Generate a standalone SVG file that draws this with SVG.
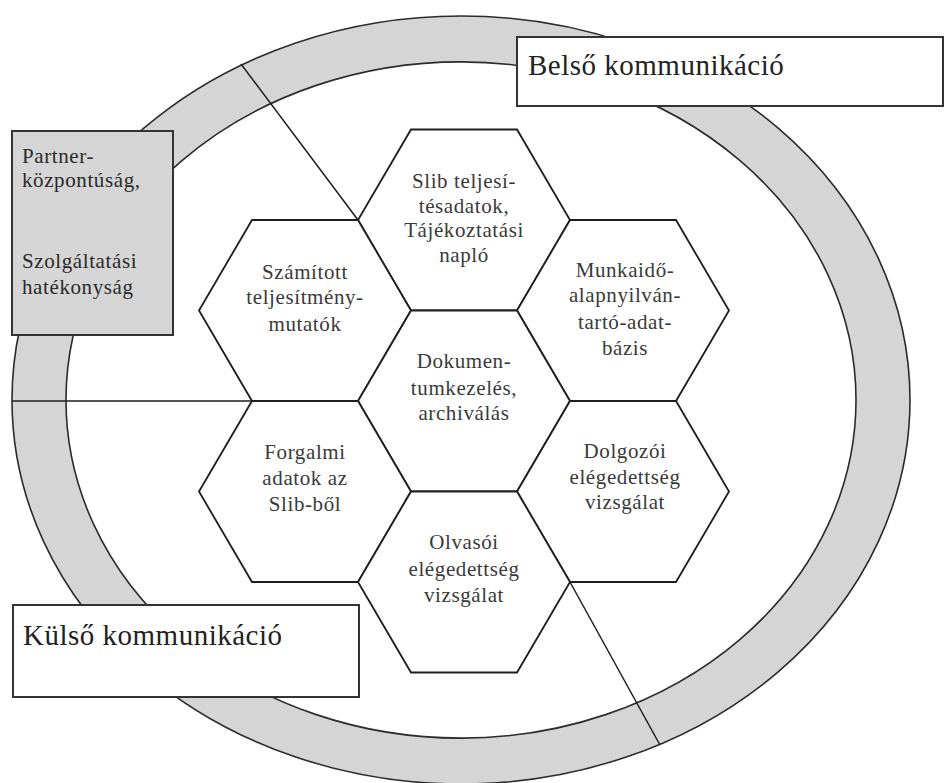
<svg xmlns="http://www.w3.org/2000/svg" width="945" height="783" viewBox="0 0 945 783">
<style>
.ring{fill:#d5d5d5;fill-rule:evenodd;stroke:#2b2b2b;stroke-width:1.6}
.hex{fill:#ffffff;stroke:#1e1e1e;stroke-width:1.8;stroke-linejoin:miter}
.box{fill:#ffffff;stroke:#333333;stroke-width:2}
.gbox{fill:#d5d5d5;stroke:#333333;stroke-width:2}
.ln{stroke:#1e1e1e;stroke-width:1.5;fill:none}
.ht{font-family:"Liberation Serif","Times New Roman",serif;font-size:21px;letter-spacing:0.6px;fill:#3a3a3a;text-anchor:middle}
.bt{font-family:"Liberation Serif","Times New Roman",serif;font-size:21px;letter-spacing:0.6px;fill:#2a2a2a}
.lt{font-family:"Liberation Serif","Times New Roman",serif;font-size:29px;letter-spacing:0.5px;fill:#222222}
</style>
<rect x="0" y="0" width="945" height="783" fill="#ffffff"/>
<g id="ring">
<path class="ring" d="M12,400 A449,384 0 1,0 910,400 A449,384 0 1,0 12,400 Z M66,400 A395,338 0 1,1 856,400 A395,338 0 1,1 66,400 Z"/>
</g>
<g id="connectors">
<line class="ln" x1="241" y1="64" x2="358" y2="220"/>
<line class="ln" x1="12" y1="401" x2="252" y2="401"/>
<line class="ln" x1="570" y1="582" x2="660" y2="745"/>
</g>
<g id="hex-slib">
<polygon class="hex" points="411,129.5 517,129.5 570,220 517,310.5 411,310.5 358,220"/>
<text class="ht" x="464" y="188">Slib teljesí-</text>
<text class="ht" x="464" y="213">tésadatok,</text>
<text class="ht" x="464" y="237">Tájékoztatási</text>
<text class="ht" x="464" y="262">napló</text>
</g>
<g id="hex-szamitott">
<polygon class="hex" points="252,220 358,220 411,310.5 358,401 252,401 199,310.5"/>
<text class="ht" x="305" y="279">Számított</text>
<text class="ht" x="305" y="304">teljesítmény-</text>
<text class="ht" x="305" y="331">mutatók</text>
</g>
<g id="hex-munkaido">
<polygon class="hex" points="570,220 676,220 729,310.5 676,401 570,401 517,310.5"/>
<text class="ht" x="625" y="277">Munkaidő-</text>
<text class="ht" x="625" y="302">alapnyilván-</text>
<text class="ht" x="625" y="329">tartó-adat-</text>
<text class="ht" x="625" y="355">bázis</text>
</g>
<g id="hex-dokumentum">
<polygon class="hex" points="411,310.5 517,310.5 570,401 517,491.5 411,491.5 358,401"/>
<text class="ht" x="464" y="368">Dokumen-</text>
<text class="ht" x="464" y="395">tumkezelés,</text>
<text class="ht" x="464" y="420">archiválás</text>
</g>
<g id="hex-forgalmi">
<polygon class="hex" points="252,401 358,401 411,491.5 358,582 252,582 199,491.5"/>
<text class="ht" x="305" y="459">Forgalmi</text>
<text class="ht" x="305" y="485">adatok az</text>
<text class="ht" x="305" y="511">Slib-ből</text>
</g>
<g id="hex-dolgozoi">
<polygon class="hex" points="570,401 676,401 729,491.5 676,582 570,582 517,491.5"/>
<text class="ht" x="625" y="458">Dolgozói</text>
<text class="ht" x="625" y="484">elégedettség</text>
<text class="ht" x="625" y="509">vizsgálat</text>
</g>
<g id="hex-olvasoi">
<polygon class="hex" points="411,491.5 517,491.5 570,582 517,672.5 411,672.5 358,582"/>
<text class="ht" x="464" y="549">Olvasói</text>
<text class="ht" x="464" y="576">elégedettség</text>
<text class="ht" x="464" y="602">vizsgálat</text>
</g>
<g id="box-partner">
<rect class="gbox" x="12" y="131" width="161" height="204"/>
<text class="bt" x="22" y="163">Partner-</text>
<text class="bt" x="22" y="187">központúság,</text>
<text class="bt" x="22" y="268">Szolgáltatási</text>
<text class="bt" x="22" y="294">hatékonyság</text>
</g>
<g id="box-belso">
<rect class="box" x="517" y="37" width="426" height="69"/>
<text class="lt" x="528" y="75">Belső kommunikáció</text>
</g>
<g id="box-kulso">
<rect class="box" x="13" y="605" width="346" height="92"/>
<text class="lt" x="23" y="645">Külső kommunikáció</text>
</g>
</svg>
